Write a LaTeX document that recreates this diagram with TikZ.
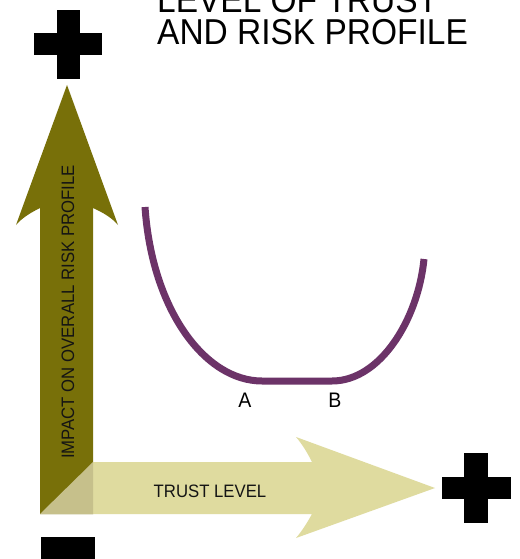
\documentclass[tikz,border=0pt]{standalone}
\usepackage{fontspec}
\setmainfont[FakeStretch=0.93]{Liberation Sans}
\definecolor{olive}{HTML}{787009}
\definecolor{paleolive}{HTML}{DFDB9F}
\definecolor{cornertan}{HTML}{C6C08B}
\definecolor{curveplum}{HTML}{6C3368}
\tikzset{
  sign/.style={fill=black},
  axislabel/.style={inner sep=0pt, font=\fontsize{18}{20}\selectfont, text=black!92},
  pointlabel/.style={inner sep=0pt, font=\fontsize{21}{23}\selectfont},
  titletext/.style={inner sep=0pt, text depth=0pt, anchor=base west, font=\fontsize{36}{38}\selectfont},
  profile/.style={draw=curveplum, line width=7pt}
}
\begin{document}
\begin{tikzpicture}[x=1pt,y=-1pt]
\useasboundingbox (0,0) rectangle (519,559);
\fill[white] (0,0) rectangle (519,559);

% title
\node[titletext] (title1) at (157,13) {LEVEL OF TRUST};
\node[titletext] (title2) at (157,45) {AND RISK PROFILE};

% plus / minus signs
\fill[sign] (57,10) rectangle (80,79);
\fill[sign] (34,33) rectangle (102,55);
\fill[sign] (464,453) rectangle (488,523);
\fill[sign] (442,477) rectangle (511,499);
\fill[sign] (41,537) rectangle (95,566);

% vertical axis arrow
\fill[olive] (40,514) -- (40,208) .. controls (30,213) and (22,218) .. (16,225)
  -- (67,85) -- (118,225) .. controls (112,218) and (104,213) .. (93,208)
  -- (93,514) -- cycle;

% horizontal axis arrow
\fill[paleolive] (93,462) -- (312,462) .. controls (307,452) and (302,444) .. (296,437)
  -- (435,488) -- (296,538) .. controls (302,531) and (307,523) .. (312,514)
  -- (93,514) -- cycle;

% corner where the two axes meet
\fill[cornertan] (93,462) -- (93,514) -- (40,514) -- cycle;

% axis labels
\node[axislabel, rotate=90, anchor=base] (ylabel) at (74,312) {IMPACT ON OVERALL RISK PROFILE};
\node[axislabel, anchor=base] (xlabel) at (210,497) {TRUST LEVEL};

% risk profile curve
\coordinate (start) at (145,207);
\coordinate (pA) at (262,381);
\coordinate (pB) at (332,381);
\coordinate (finish) at (424,259);
\draw[profile] (start) .. controls (152,310) and (205,381) .. (pA)
  -- (pB) .. controls (380,381) and (418,320) .. (finish);

\node[pointlabel, anchor=base] (labA) at (245,407) {A};
\node[pointlabel, anchor=base] (labB) at (335,407) {B};
\end{tikzpicture}
\end{document}
